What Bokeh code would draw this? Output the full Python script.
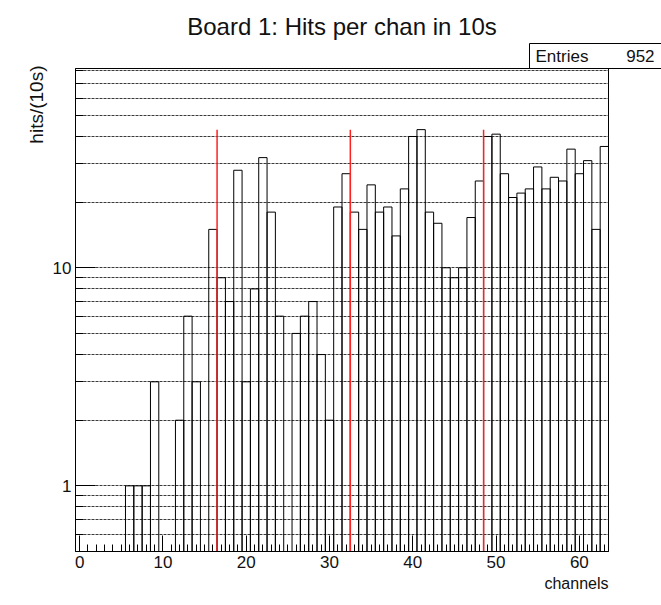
from bokeh.embed import file_html
from bokeh.models import (ColumnDataSource, FixedTicker, PrintfTickFormatter,
                          Range1d, Title)
from bokeh.plotting import figure
from bokeh.resources import INLINE

# Hits per channel recorded on board 1 during a 10 s window
channels = list(range(64))
hits = [0, 0, 0, 0, 0, 0, 1, 1, 1, 3,
        0, 0, 2, 6, 3, 0,
        15, 9, 7, 28, 3, 8, 32, 18, 6, 0,
        5, 6, 7, 4, 2, 19, 27, 18, 15, 24,
        18, 19, 14, 23, 40, 43, 18, 16, 10, 9,
        10, 17, 25, 40, 41, 27, 21, 22, 23, 29,
        23, 26, 25, 35, 27, 31, 15, 36]
entries = 952

# Chip boundaries (every 16 channels)
boundaries = [16.5, 32.5, 48.5]

# Axis ticks
x_major = [0, 10, 20, 30, 40, 50, 60]
x_minor = list(range(64))
y_major = [1, 10]
y_minor = [0.6, 0.7, 0.8, 0.9, 2, 3, 4, 5, 6, 7, 8, 9, 20, 30, 40, 50, 60, 70, 80]

Y_MIN, Y_MAX = 0.5, 82
FONT = "Liberation Sans"
INK = "#111111"

p = figure(width=661, height=605, y_axis_type="log",
           x_range=Range1d(-0.5, 63.5), y_range=Range1d(Y_MIN, Y_MAX),
           output_backend="svg", toolbar_location=None,
           min_border_left=75, min_border_right=53,
           min_border_top=68, min_border_bottom=54)
p.title_location = None
p.background_fill_color = "white"
p.border_fill_color = "white"
p.outline_line_color = "black"
p.outline_line_width = 1

# Grid: dotted horizontal lines on every decade subdivision
p.xgrid.visible = False
p.ygrid.grid_line_color = "#3a3a3a"
p.ygrid.grid_line_dash = "3 1"
p.ygrid.grid_line_width = 1
p.ygrid.minor_grid_line_color = "#3a3a3a"
p.ygrid.minor_grid_line_dash = "3 1"
p.ygrid.minor_grid_line_width = 1

# x axis
xa = p.xaxis[0]
xa.ticker = FixedTicker(ticks=x_major, minor_ticks=x_minor)
xa.major_tick_in = 16
xa.major_tick_out = 0
xa.minor_tick_in = 7
xa.minor_tick_out = 0
xa.axis_line_color = "black"
xa.major_tick_line_color = "black"
xa.minor_tick_line_color = "black"
xa.major_label_standoff = 4
xa.major_label_text_font = FONT
xa.major_label_text_font_size = "17px"
xa.major_label_text_color = INK

# y axis (log)
ya = p.yaxis[0]
ya.ticker = FixedTicker(ticks=y_major, minor_ticks=y_minor)
ya.formatter = PrintfTickFormatter(format="%d")
ya.major_tick_in = 20
ya.major_tick_out = 0
ya.minor_tick_in = 8
ya.minor_tick_out = 0
ya.axis_line_color = "black"
ya.major_tick_line_color = "black"
ya.minor_tick_line_color = "black"
ya.major_label_standoff = 4
ya.major_label_text_font = FONT
ya.major_label_text_font_size = "17px"
ya.major_label_text_color = INK

# Histogram bins (empty bins are not drawn on a log scale)
nz = [i for i, h in enumerate(hits) if h > 0]
src = ColumnDataSource(dict(
    x=[channels[i] for i in nz],
    top=[hits[i] for i in nz],
    bottom=[Y_MIN] * len(nz),
))
p.vbar(x="x", width=1, top="top", bottom="bottom", source=src,
       fill_color=None, line_color="black", line_width=1)

# Red separators between chips, up to the histogram maximum
p.segment(x0=boundaries, x1=boundaries,
          y0=[Y_MIN] * len(boundaries), y1=[max(hits)] * len(boundaries),
          line_color="#ff2020", line_width=1.5)

# Statistics box, just above the frame's right end
p.add_layout(Title(text="Entries" + "\u00a0" * 8 + str(entries),
                   align="left", offset=454, standoff=0,
                   text_font=FONT, text_font_size="17px",
                   text_font_style="normal", text_color=INK,
                   background_fill_color="white", border_line_color="black",
                   border_line_width=1, padding=(6, 14, 3, 3)), "above")

# Main title
p.add_layout(Title(text="Board 1: Hits per chan in 10s", align="center",
                   standoff=4, text_font=FONT, text_font_size="24px",
                   text_font_style="normal", text_color=INK), "above")

# Axis titles, pushed to the far ends of their axes
p.add_layout(Title(text="hits/(10s)", align="right", offset=-3, standoff=6,
                   text_font=FONT, text_font_size="19px",
                   text_font_style="normal", text_color=INK), "left")
p.add_layout(Title(text="channels", align="right", standoff=5,
                   text_font=FONT, text_font_size="16px",
                   text_font_style="normal", text_color=INK), "below")

open("out.html", "w").write(file_html(p, INLINE))
